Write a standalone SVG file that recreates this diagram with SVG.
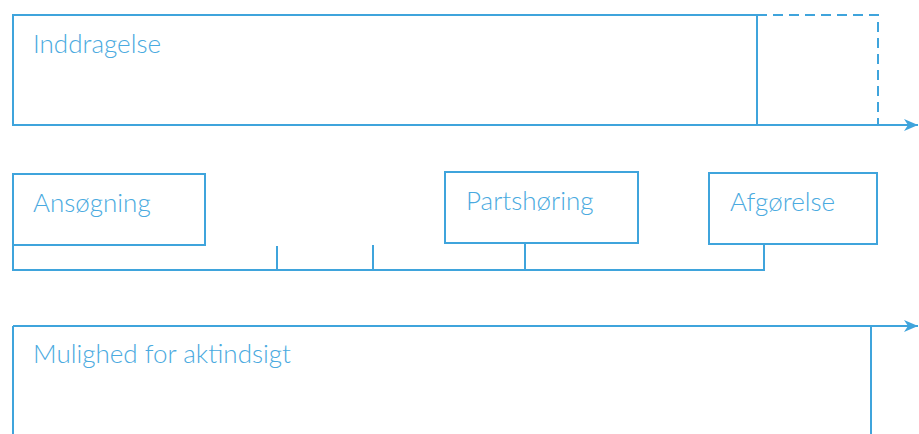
<svg xmlns="http://www.w3.org/2000/svg" width="919" height="434" viewBox="0 0 919 434">
<style>
.b{fill:none;stroke:#3fa4dc;stroke-width:2}
.d{fill:none;stroke:#3fa4dc;stroke-width:2;stroke-dasharray:10 6}
.t{font-family:Lato,"Open Sans",sans-serif;font-weight:300;font-size:26px;fill:#4aaae0}
</style>
<defs>
<marker id="ar" viewBox="0 0 14 12" refX="14" refY="6" markerWidth="14" markerHeight="12" markerUnits="userSpaceOnUse" orient="auto">
<path d="M0,0 L14,6 L0,12 L4,6 Z" fill="#3fa4dc"/>
</marker>
</defs>
<g id="inddragelse">
<rect class="b" x="13" y="15" width="744" height="110"/>
<text class="t" x="33" y="53">Inddragelse</text>
</g>
<g id="inddragelse-ext">
<rect class="d" x="757" y="15" width="121" height="110"/>
</g>
<g id="ansoegning">
<rect class="b" x="13" y="174" width="192" height="71"/>
<text class="t" x="33" y="212">Ansøgning</text>
</g>
<g id="partshoering">
<rect class="b" x="445" y="172" width="193" height="71"/>
<text class="t" x="466" y="210">Partshøring</text>
</g>
<g id="afgoerelse">
<rect class="b" x="709" y="173" width="168" height="71"/>
<text class="t" x="730" y="211">Afgørelse</text>
</g>
<g id="aktindsigt">
<path class="b" d="M13,434 V326 M871,326 V434"/>
<text class="t" x="33" y="363">Mulighed for aktindsigt</text>
</g>
<g id="connectors">
<path class="b" d="M13,125 H918" marker-end="url(#ar)"/>
<path class="b" d="M13,326 H918" marker-end="url(#ar)"/>
<path class="b" d="M13,245 V270 H764 V244 M277,246 V270 M373,245 V270 M525,243 V270"/>
</g>
</svg>
